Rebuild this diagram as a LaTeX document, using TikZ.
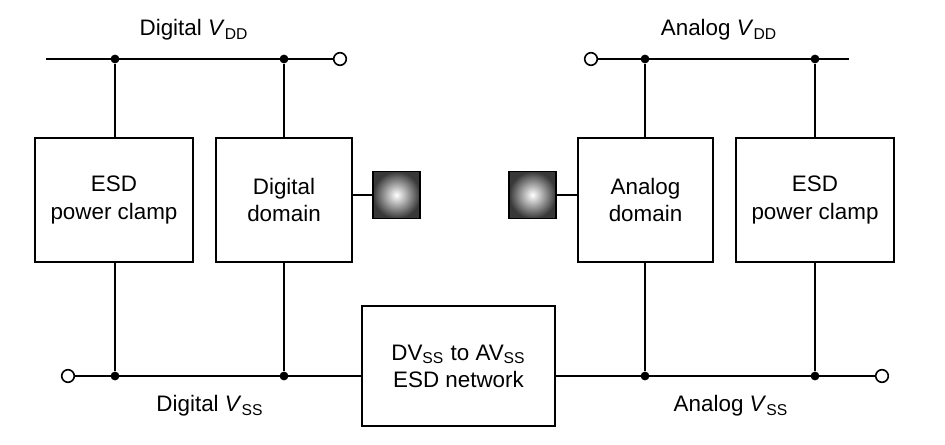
\documentclass[tikz,border=0pt]{standalone}
\usepackage{fontspec}
\setmainfont{Liberation Sans}
\newcommand{\supply}[2]{#1 \textit{V}\textsubscript{#2}}
\begin{document}
\begin{tikzpicture}[x=0.5pt,y=-0.5pt,line width=0.8pt,
  font=\fontsize{11.2}{13.6}\selectfont,
  blk/.style={draw,align=center,inner sep=0pt,minimum height=62pt},
  padsq/.style={draw,shading=radial,inner color=white,outer color=black!78,
    minimum size=23.5pt,inner sep=0pt},
  jdot/.style={circle,fill,inner sep=0pt,minimum size=4.4pt},
  term/.style={circle,draw,fill=white,inner sep=0pt,minimum size=6.3pt}]
\useasboundingbox (0,0) rectangle (945,444);

% blocks
\node[blk,minimum width=79pt] (clampL) at (114,200) {ESD\\power clamp};
\node[blk,minimum width=68pt] (dig) at (284,200) {Digital\\domain};
\node[blk,minimum width=67.5pt] (ana) at (645.5,200) {Analog\\domain};
\node[blk,minimum width=79pt] (clampR) at (815,200) {ESD\\power clamp};
\node[blk,minimum width=96.5pt,minimum height=60pt] (net) at (458.5,366)
  {DV\textsubscript{SS} to AV\textsubscript{SS}\\ESD network};

% pads
\node[padsq] (padL) at (396.5,195) {};
\node[padsq] (padR) at (532.5,195) {};
\draw (padL.west -| dig.east) -- (padL.west);
\draw (padR.east) -- (padR.east -| ana.west);

% supply rails
\coordinate (dvdd) at (46,59);
\node[term] (dvddT) at (340,59) {};
\node[term] (avddT) at (591,59) {};
\coordinate (avdd) at (849,59);
\node[term] (dvssT) at (68,376) {};
\node[term] (avssT) at (882,376) {};

\draw (dvdd) -- (dvddT);
\draw (avddT) -- (avdd);
\draw (dvssT) -- (dvssT -| net.west);
\draw (net.east |- avssT) -- (avssT);

% junctions and drops
\foreach \n/\x in {a/115,b/284,c/645,d/815}{
  \node[jdot] (top\n) at (\x,59) {};
  \node[jdot] (bot\n) at (\x,376) {};
}
\draw (topa) -- (topa |- clampL.north) (clampL.south -| bota) -- (bota);
\draw (topb) -- (topb |- dig.north) (dig.south -| botb) -- (botb);
\draw (topc) -- (topc |- ana.north) (ana.south -| botc) -- (botc);
\draw (topd) -- (topd |- clampR.north) (clampR.south -| botd) -- (botd);

% rail labels
\node (lblDVDD) at (194,30) {\supply{Digital}{DD}};
\node (lblAVDD) at (719,30) {\supply{Analog}{DD}};
\node (lblDVSS) at (210,406) {\supply{Digital}{SS}};
\node (lblAVSS) at (731,406) {\supply{Analog}{SS}};
\end{tikzpicture}
\end{document}
